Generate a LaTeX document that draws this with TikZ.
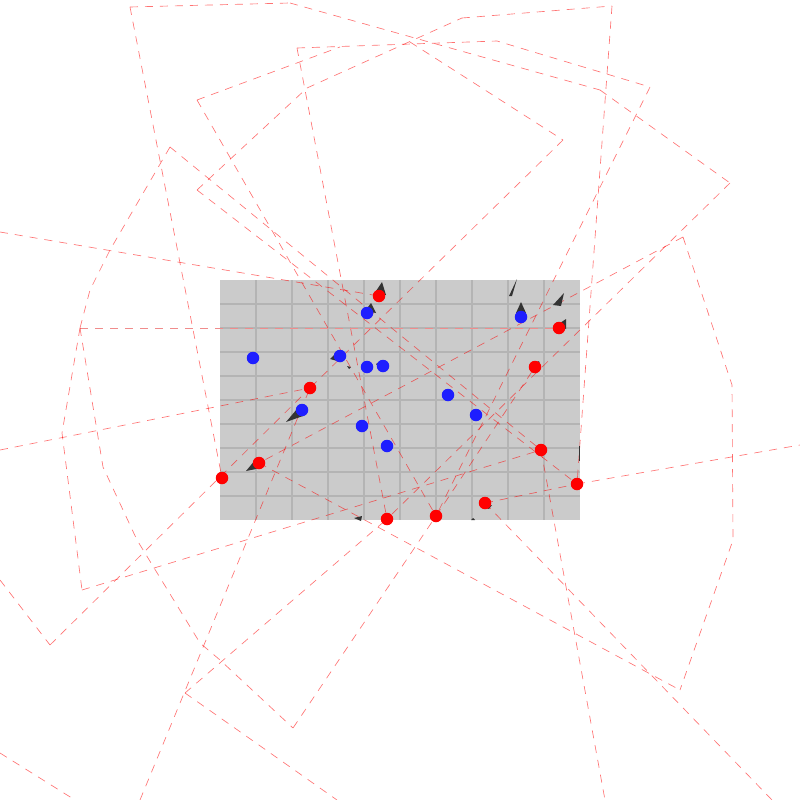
\documentclass[tikz,border=0pt]{standalone}
\usepackage{tikz}
\definecolor{boxgrey}{HTML}{CBCBCB}
\definecolor{gridgrey}{HTML}{B4B4B4}
\definecolor{dotred}{HTML}{FF0000}
\definecolor{dotblue}{HTML}{1E1EFF}
\definecolor{wedge}{HTML}{333333}
\definecolor{trailpink}{HTML}{F08C8C}
\begin{document}
\begin{tikzpicture}[x=1pt,y=-1pt,
  trail/.style={draw=red,draw opacity=0.55,line width=0.65pt,dash pattern=on 8pt off 7pt},
  gridtrail/.style={draw=trailpink,line width=0.9pt,dash pattern=on 8pt off 7pt},
  reddot/.style={circle,fill=dotred,inner sep=0pt,minimum size=12.5pt},
  bluedot/.style={circle,fill=dotblue,inner sep=0pt,minimum size=12.5pt},
  cone/.style={fill=wedge}]
\useasboundingbox (0,0) rectangle (800,800);
% arena
\fill[boxgrey] (220,280) rectangle (580,520);
\foreach \gx in {256,292,...,544} \draw[gridgrey,line width=1.1pt] (\gx,280) -- (\gx,520);
\foreach \gy in {304,328,...,496} \draw[gridgrey,line width=1.1pt] (220,\gy) -- (580,\gy);
% dot positions
\coordinate (r1) at (379,296);
\coordinate (r2) at (559,328);
\coordinate (r3) at (310,388);
\coordinate (r4) at (535,367);
\coordinate (r5) at (259,463);
\coordinate (r6) at (222,478);
\coordinate (r7) at (541,450);
\coordinate (r8) at (577,484);
\coordinate (r9) at (485,503);
\coordinate (r10) at (436,516);
\coordinate (r11) at (387,519);
% outer vertices
\coordinate (v1) at (130,7);
\coordinate (v2) at (290,3);
\coordinate (v3) at (600,90);
\coordinate (v4) at (730,183);
\coordinate (v5) at (612,6);
\coordinate (v6) at (462,18);
\coordinate (v7) at (197,100);
\coordinate (v8) at (297,48);
\coordinate (v9) at (497,41);
\coordinate (v10) at (650,87);
\coordinate (v11) at (170,147);
\coordinate (v12) at (197,190);
\coordinate (v13) at (410,42);
\coordinate (v14) at (563,140);
\coordinate (v15) at (683,237);
\coordinate (v16) at (680,690);
\coordinate (v17) at (80,328);
\coordinate (v18) at (82,590);
\coordinate (v19) at (50,645);
\coordinate (v20) at (293,728);
\coordinate (v21) at (185,693);
% trails
\draw[trail] (v1) -- (v2);
\draw[trail] (v2) -- (v3);
\draw[trail] (v3) -- (v4);
\draw[trail] (v4) -- (r11);
\draw[trail] (v5) -- (r8);
\draw[trail] (v6) -- (v5);
\draw[trail] (v7) -- (340,47);
\draw[trail] (v8) -- (v9) -- (v10);
\draw[trail] (v10) -- (r10);
\draw[trail] (v8) -- (r11);
\draw[trail] (v1) -- (r6);
\draw[trail] (v7) -- (r10);
\draw[trail] (0,232) -- (r1);
\draw[trail] (v11) -- (110,250) -- (90,290) -- (v17);
\draw[gridtrail] (v17) -- (r2);
\draw[trail] (v17) -- (62,433) -- (v18);
\draw[trail] (v17) -- (103,467) -- (137,540) -- (200,643) -- (220,660) -- (v20);
\draw[trail] (v20) -- (r10);
\draw[trail] (0,450) -- (r3);
\draw[trail] (v19) -- (r3);
\draw[trail] (0,580) -- (v19);
\draw[trail] (v18) -- (r7);
\draw[trail] (140,800) -- (r3);
\draw[trail] (0,753) -- (75,800);
\draw[trail] (r5) -- (v16);
\draw[trail] (v15) -- (732,385) -- (733,540) -- (v16);
\draw[trail] (v15) -- (r5);
\draw[trail] (r8) -- (800,445);
\draw[trail] (r9) -- (r8);
\draw[trail] (r7) -- (605,800);
\draw[trail] (r9) -- (772,800);
\draw[trail] (v21) -- (337,800);
\draw[trail] (v21) -- (r11);
\draw[trail] (v11) -- (r7);
\draw[trail] (v12) -- (r8);
\draw[trail] (v13) -- (v14);
\draw[trail] (v14) -- (r3);
\draw[trail] (r10) -- (r4);
\draw[trail] (v12) -- (307,88) -- (v6);
% heading cones
\fill[cone] (382,282) -- (374,294) -- (386,295) -- cycle;
\fill[cone] (371,303) -- (365,311) -- (376,313) -- cycle;
\fill[cone] (330,359) -- (339,350) -- (341,362) -- cycle;
\fill[cone] (376,364) -- (382,360) -- (382,371) -- cycle;
\fill[cone] (286,422) -- (297,409) -- (303,416) -- cycle;
\fill[cone] (246,471) -- (256,459) -- (261,468) -- cycle;
\fill[cone] (521,302) -- (516,313) -- (526,313) -- cycle;
\fill[cone] (517,279) -- (509,296) -- (512,296) -- cycle;
\fill[cone] (564,293) -- (553,305) -- (561,306) -- cycle;
\fill[cone] (566,319) -- (557,325) -- (566,329) -- cycle;
\fill[cone] (539,361) -- (532,366) -- (541,368) -- cycle;
\fill[cone] (354,518) -- (362,516) -- (361,521) -- cycle;
\fill[cone] (578.5,446) -- (580,446) -- (580,461) -- (578.5,461) -- cycle;
\fill[cone] (489,509) -- (484,507) -- (492,505) -- cycle;
\fill[cone] (473,518) -- (471,520) -- (475,520) -- cycle;
\fill[cone] (347,366) -- (351,367) -- (349,369) -- cycle;
% agents
\node[reddot] (R1) at (r1) {};
\node[reddot] (R2) at (r2) {};
\node[reddot] (R3) at (r3) {};
\node[reddot] (R4) at (r4) {};
\node[reddot] (R5) at (r5) {};
\node[reddot] (R6) at (r6) {};
\node[reddot] (R7) at (r7) {};
\node[reddot] (R8) at (r8) {};
\node[reddot] (R9) at (r9) {};
\node[reddot] (R10) at (r10) {};
\node[reddot] (R11) at (r11) {};
\node[bluedot] (B1) at (367,313) {};
\node[bluedot] (B2) at (521,317) {};
\node[bluedot] (B3) at (253,358) {};
\node[bluedot] (B4) at (340,356) {};
\node[bluedot] (B5) at (367,367) {};
\node[bluedot] (B6) at (383,366) {};
\node[bluedot] (B7) at (302,410) {};
\node[bluedot] (B8) at (448,395) {};
\node[bluedot] (B9) at (476,415) {};
\node[bluedot] (B10) at (362,426) {};
\node[bluedot] (B11) at (387,446) {};
\end{tikzpicture}
\end{document}
